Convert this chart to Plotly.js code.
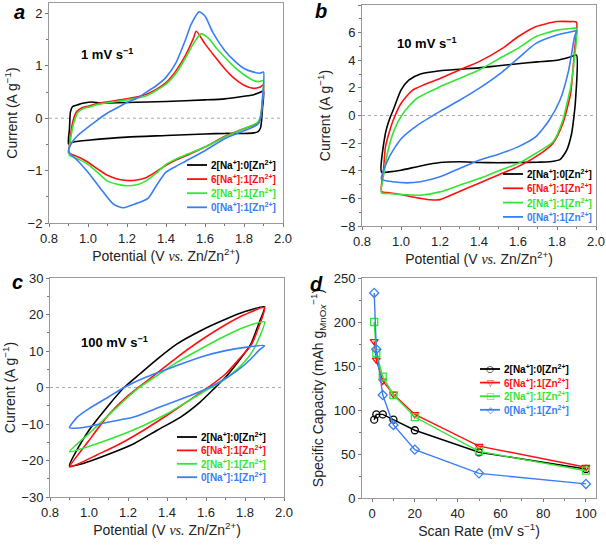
<!DOCTYPE html>
<html>
<head>
<meta charset="utf-8">
<script src="https://cdn.plot.ly/plotly-3.0.1.min.js"></script>
<style>html,body{margin:0;padding:0;background:#fff;}#chart{width:606px;height:548px;}</style>
</head>
<body>
<div id="chart"></div>
<script>
// ---------- Series names & colours ----------
const seriesNames = ['2[Na<sup>+</sup>]:0[Zn<sup>2+</sup>]', '6[Na<sup>+</sup>]:1[Zn<sup>2+</sup>]', '2[Na<sup>+</sup>]:1[Zn<sup>2+</sup>]', '0[Na<sup>+</sup>]:1[Zn<sup>2+</sup>]'];
const seriesColors = ['#000000', '#ff1010', '#33e633', '#3a7ef5'];

// ---------- Panel a : 1 mV/s (potential V, current A/g), closed loops ----------
const a_V_black = [0.9,0.905,0.91,0.92,0.95,0.98,1.02,1.06,1.1,1.2,1.4,1.6,1.7,1.8,1.85,1.88,1.9, 1.895,1.885,1.87,1.85,1.8,1.7,1.6,1.4,1.2,1.0,0.95,0.92,0.9];
const a_I_black = [-0.49,-0.2,0.12,0.22,0.26,0.29,0.31,0.29,0.29,0.3,0.32,0.35,0.37,0.42,0.45,0.49,0.52, 0.2,-0.18,-0.26,-0.28,-0.29,-0.29,-0.3,-0.33,-0.36,-0.42,-0.44,-0.46,-0.49];
const a_V_red = [0.9,0.91,0.92,0.94,0.97,1.0,1.06,1.2,1.3,1.35,1.4,1.45,1.5,1.54,1.555,1.6,1.65,1.7,1.75,1.8,1.85,1.88,1.9, 1.895,1.885,1.87,1.8,1.7,1.6,1.5,1.45,1.4,1.35,1.3,1.25,1.2,1.15,1.1,1.05,1.0,0.95,0.9];
const a_I_red = [-0.66,-0.35,-0.1,0.12,0.2,0.23,0.29,0.37,0.46,0.55,0.68,0.9,1.2,1.52,1.66,1.42,1.18,0.95,0.76,0.63,0.57,0.59,0.64, 0.3,0.0,-0.1,-0.2,-0.35,-0.55,-0.72,-0.8,-0.9,-1.02,-1.13,-1.18,-1.19,-1.16,-1.09,-0.97,-0.84,-0.74,-0.67];
const a_V_green = [0.9,0.915,0.93,0.95,0.98,1.0,1.06,1.2,1.3,1.35,1.4,1.45,1.5,1.54,1.58,1.62,1.66,1.7,1.75,1.8,1.85,1.88,1.9, 1.895,1.885,1.87,1.8,1.7,1.6,1.5,1.45,1.4,1.35,1.3,1.25,1.2,1.15,1.1,1.05,1.0,0.95,0.9];
const a_I_green = [-0.68,-0.3,-0.05,0.12,0.19,0.21,0.27,0.35,0.43,0.53,0.65,0.85,1.15,1.42,1.61,1.52,1.33,1.17,0.98,0.83,0.72,0.7,0.72, 0.35,0.05,-0.08,-0.2,-0.36,-0.55,-0.7,-0.78,-0.88,-1.05,-1.19,-1.27,-1.29,-1.26,-1.2,-1.04,-0.88,-0.78,-0.7];
const a_V_blue = [0.9,0.92,0.95,1.0,1.05,1.1,1.15,1.2,1.25,1.3,1.35,1.4,1.45,1.5,1.53,1.57,1.6,1.64,1.7,1.75,1.8,1.85,1.88,1.9, 1.895,1.885,1.87,1.8,1.7,1.6,1.5,1.45,1.4,1.35,1.31,1.27,1.23,1.18,1.13,1.06,1.0,0.95,0.9];
const a_I_blue = [-0.63,-0.45,-0.32,-0.17,-0.03,0.1,0.2,0.3,0.38,0.5,0.62,0.78,1.05,1.5,1.8,2.03,1.95,1.64,1.3,1.1,0.95,0.88,0.86,0.88, 0.4,0.0,-0.12,-0.24,-0.39,-0.62,-0.82,-0.92,-1.03,-1.29,-1.52,-1.6,-1.65,-1.71,-1.64,-1.32,-1.03,-0.82,-0.63];

// ---------- Panel b : 10 mV/s ----------
const b_V_black = [0.9,0.92,0.94,0.96,1.0,1.04,1.1,1.2,1.3,1.4,1.5,1.6,1.7,1.8,1.87,1.9, 1.895,1.885,1.875,1.85,1.815,1.76,1.7,1.6,1.5,1.4,1.3,1.2,1.1,1.0,0.94,0.9];
const b_I_black = [-4.1,-1.3,-0.3,0.4,1.84,2.56,3.0,3.24,3.35,3.45,3.6,3.75,3.88,4.0,4.25,4.37, 1.1,-0.3,-1.3,-2.5,-3.2,-3.35,-3.38,-3.4,-3.42,-3.4,-3.35,-3.4,-3.65,-3.96,-4.08,-4.1];
const b_V_red = [0.9,0.91,0.92,0.94,0.96,1.0,1.06,1.2,1.3,1.4,1.52,1.6,1.69,1.8,1.87,1.9, 1.89,1.87,1.85,1.83,1.78,1.69,1.6,1.5,1.4,1.3,1.2,1.15,1.1,1.06,1.0,0.94,0.9];
const b_I_red = [-5.5,-4.0,-2.3,-1.2,-0.34,0.87,1.84,2.68,3.3,3.9,4.86,5.7,6.43,6.8,6.8,6.76, 4.7,1.6,0.4,-0.58,-2.0,-3.0,-3.7,-4.3,-4.9,-5.5,-6.09,-6.1,-6.0,-5.9,-5.72,-5.6,-5.5];
const b_V_green = [0.9,0.915,0.93,0.965,1.01,1.08,1.2,1.3,1.4,1.52,1.6,1.69,1.8,1.87,1.9, 1.89,1.87,1.85,1.83,1.78,1.69,1.6,1.5,1.4,1.3,1.2,1.1,1.0,0.94,0.9];
const b_I_green = [-5.6,-4.0,-2.75,-1.06,0.14,1.23,2.08,2.68,3.29,4.25,4.86,5.7,6.18,6.3,6.3, 4.25,2.08,0.8,-0.34,-1.9,-2.75,-3.48,-4.0,-4.57,-5.05,-5.53,-5.77,-5.72,-5.65,-5.6];
const b_V_blue = [0.9,0.94,1.0,1.08,1.2,1.3,1.4,1.52,1.6,1.69,1.8,1.87,1.9, 1.89,1.86,1.815,1.76,1.69,1.6,1.5,1.4,1.3,1.2,1.1,1.03,0.96,0.9];
const b_I_blue = [-4.6,-3.0,-1.7,-0.75,0.3,1.1,1.96,3.16,4.13,5.2,5.82,6.05,6.13, 5.7,3.29,1.1,-0.34,-1.55,-2.27,-2.8,-3.24,-3.84,-4.44,-4.8,-4.88,-4.8,-4.6];

// ---------- Panel c : 100 mV/s ----------
const c_V_black = [0.9,0.95,1.0,1.1,1.18,1.26,1.35,1.45,1.57,1.7,1.8,1.9, 1.87,1.83,1.77,1.7,1.64,1.57,1.47,1.35,1.23,1.09,0.97,0.9];
const c_I_black = [-21.5,-16,-11.7,-4.9,0,3.7,7.8,11.9,15.5,18.7,20.8,22.1, 17.4,11.9,7.4,2.8,-0.4,-4.0,-8.1,-11.7,-15.4,-18.5,-20.8,-21.5];
const c_V_red = [0.9,1.0,1.1,1.2,1.26,1.35,1.45,1.57,1.7,1.8,1.9, 1.87,1.83,1.77,1.7,1.6,1.5,1.4,1.28,1.16,1.04,0.95,0.9];
const c_I_red = [-21.8,-14.5,-7.5,-2.2,0.3,4.0,8.2,12.8,17.2,20.0,21.9, 16.5,11.5,7.8,3.7,-0.4,-4.0,-7.6,-11.7,-15.4,-18.5,-20.8,-21.8];
const c_V_green = [0.9,1.0,1.1,1.2,1.26,1.35,1.45,1.57,1.7,1.8,1.9, 1.87,1.83,1.77,1.7,1.6,1.5,1.4,1.28,1.16,1.04,0.9];
const c_I_green = [-17.6,-12.6,-7.6,-2.6,0.1,3.3,6.9,10.5,14.2,16.6,18.0, 13.3,9.2,5.5,2.4,-0.8,-4.0,-7.2,-10.4,-13.1,-15.4,-17.6];
const c_V_blue = [0.9,0.94,1.0,1.1,1.18,1.29,1.45,1.57,1.7,1.8,1.9, 1.87,1.83,1.76,1.67,1.6,1.5,1.36,1.23,1.09,1.0,0.95,0.9];
const c_I_blue = [-11.0,-8.1,-5.8,-2.6,0,2.8,6.0,8.3,10.1,11.0,11.5, 10.1,7.8,4.6,1.5,-0.4,-2.6,-5.4,-8.1,-9.6,-10.7,-11.1,-11.0];

// ---------- Panel d : specific capacity vs scan rate ----------
const scanRates = [1, 2, 5, 10, 20, 50, 100];
const d_black = [89, 95, 95, 89, 77, 52, 33];
const d_red = [178, 157, 133, 118, 95, 59, 35];
const d_green = [200, 165, 138, 117, 92, 53, 31];
const d_blue = [233, 169, 117, 83, 55, 28, 16];
const d_symbols = ['circle-open', 'triangle-down-open', 'square-open', 'diamond-open'];
const d_legendGlyphs = ['○', '▽', '□', '◇'];

const FONT = 'Liberation Sans, Arial, sans-serif';
const W = 606, H = 548;

function cvTraces(Vs, Is, xa, ya) {
  return Vs.map((V, i) => ({
    type: 'scatter', mode: 'lines', x: V, y: Is[i], xaxis: xa, yaxis: ya,
    name: seriesNames[i], showlegend: false,
    line: {color: seriesColors[i], width: 1.6, shape: 'spline', smoothing: 0.6}
  }));
}
const traces = [].concat(
  cvTraces([a_V_black, a_V_red, a_V_green, a_V_blue], [a_I_black, a_I_red, a_I_green, a_I_blue], 'x', 'y'),
  cvTraces([b_V_black, b_V_red, b_V_green, b_V_blue], [b_I_black, b_I_red, b_I_green, b_I_blue], 'x2', 'y2'),
  cvTraces([c_V_black, c_V_red, c_V_green, c_V_blue], [c_I_black, c_I_red, c_I_green, c_I_blue], 'x3', 'y3'),
  [d_black, d_red, d_green, d_blue].map((Y, i) => ({
    type: 'scatter', mode: 'lines+markers', x: scanRates, y: Y, xaxis: 'x4', yaxis: 'y4',
    name: seriesNames[i], showlegend: false,
    line: {color: seriesColors[i], width: 1.4},
    marker: {symbol: d_symbols[i], size: 7, color: seriesColors[i], line: {width: 1.3, color: seriesColors[i]}}
  }))
);

function axis(domain, anchor, range, dtick, minor, title, fmt) {
  return {
    domain: domain, anchor: anchor, range: range, autorange: false,
    dtick: dtick, tickformat: fmt,
    showline: true, mirror: true, linecolor: '#999', linewidth: 1,
    ticks: 'outside', ticklen: 3, tickcolor: '#777', tickwidth: 1,
    minor: {dtick: minor, ticks: 'outside', ticklen: 2, tickcolor: '#777'},
    showgrid: false, zeroline: false,
    tickfont: {family: FONT, size: 13, color: '#222'},
    title: {text: title, font: {family: FONT, size: 14, color: '#222'}, standoff: 6}
  };
}
const potTitle = 'Potential (V <i><span style="font-family:Liberation Serif, serif">vs.</span></i> Zn/Zn<sup>2+</sup>)';
const curTitle = 'Current (A g<sup>−1</sup>)';

function zeroLine(xref, yref) {
  return {type: 'line', xref: xref + ' domain', x0: 0, x1: 1, yref: yref, y0: 0, y1: 0,
          line: {color: '#aaaaaa', width: 1, dash: 'dot'}, layer: 'below'};
}
function ann(x, y, text, size, xanchor, color, family) {
  return {xref: 'paper', yref: 'paper', x: x / W, y: 1 - y / H, text: text, showarrow: false,
          xanchor: xanchor || 'left', yanchor: 'middle', borderpad: 0,
          font: {family: family || FONT, size: size, color: color || '#000'}};
}

// Manual compact legends (sample line + coloured bold label), positions in pixels
const legendSpecs = [
  {x: 187, y: 165, dy: 14.1, glyph: false},
  {x: 503, y: 174, dy: 14.3, glyph: false},
  {x: 177, y: 437, dy: 13.4, glyph: false},
  {x: 480, y: 369, dy: 13.6, glyph: true}
];
const legendShapes = [], legendAnns = [];
legendSpecs.forEach(s => {
  seriesNames.forEach((nm, i) => {
    const y = s.y + i * s.dy;
    legendShapes.push({type: 'line', xref: 'paper', yref: 'paper', x0: s.x / W, x1: (s.x + 20) / W,
                       y0: 1 - y / H, y1: 1 - y / H, line: {color: seriesColors[i], width: 1.8}});
    legendAnns.push(ann(s.x + 23, y, '<b>' + nm + '</b>', 10, 'left', seriesColors[i]));
    if (s.glyph) legendAnns.push(ann(s.x + 10, y, d_legendGlyphs[i], 9, 'center', seriesColors[i], 'DejaVu Sans'));
  });
});

const layout = {
  width: W, height: H, margin: {l: 0, r: 0, t: 0, b: 0},
  paper_bgcolor: '#fff', plot_bgcolor: '#fff', showlegend: false,
  xaxis: axis([49/W, 283/W], 'y', [0.8, 2.0], 0.2, 0.1, potTitle, '.1f'),
  yaxis: axis([1 - 223/H, 1 - 3/H], 'x', [-2, 2.2], 1, 0.5, curTitle),
  xaxis2: axis([362/W, 596/W], 'y2', [0.8, 2.0], 0.2, 0.1, potTitle, '.1f'),
  yaxis2: axis([1 - 226/H, 1 - 5/H], 'x2', [-8, 8], 2, 1, curTitle),
  xaxis3: axis([50/W, 284/W], 'y3', [0.8, 2.0], 0.2, 0.1, potTitle, '.1f'),
  yaxis3: axis([1 - 497/H, 1 - 278/H], 'x3', [-30, 30], 10, 5, curTitle),
  xaxis4: axis([362/W, 596/W], 'y4', [-4.7, 104.7], 20, 10, 'Scan Rate (mV s<sup>−1</sup>)'),
  yaxis4: axis([1 - 498/H, 1 - 278/H], 'x4', [0, 250], 50, 25, 'Specific Capacity (mAh g<sub>MnO<i>x</i></sub><sup>−1</sup>)'),
  shapes: [zeroLine('x', 'y'), zeroLine('x2', 'y2'), zeroLine('x3', 'y3')].concat(legendShapes),
  annotations: [
    ann(20, 12, '<b><i>a</i></b>', 20, 'center'),
    ann(321, 11, '<b><i>b</i></b>', 20, 'center'),
    ann(17, 282, '<b><i>c</i></b>', 20, 'center'),
    ann(316, 284, '<b><i>d</i></b>', 20, 'center'),
    ann(80, 54, '<b>1 mV s<sup>−1</sup></b>', 13),
    ann(396, 43, '<b>10 mV s<sup>−1</sup></b>', 13),
    ann(80, 342, '<b>100 mV s<sup>−1</sup></b>', 13)
  ].concat(legendAnns)
};
layout.xaxis4.tick0 = 0;

Plotly.newPlot('chart', traces, layout, {staticPlot: true, displayModeBar: false});
</script>
</body>
</html>
